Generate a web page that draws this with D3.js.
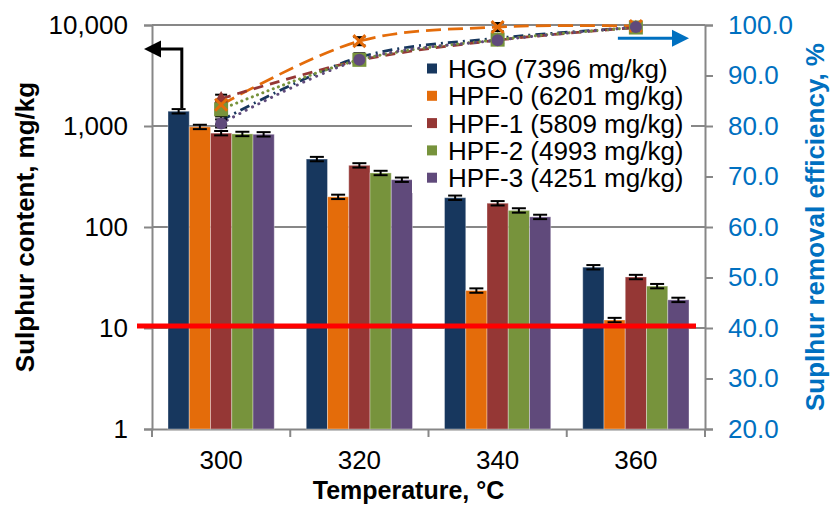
<!DOCTYPE html>
<html>
<head>
<meta charset="utf-8">
<script src="https://cdn.jsdelivr.net/npm/d3@7"></script>
<style>
  body { margin: 0; background: #fff; }
  text { font-family: "Liberation Sans", Arial, sans-serif; }
</style>
</head>
<body>
<div id="chart"></div>
<script>
// categories and series
const temps = ['300', '320', '340', '360'];
const keys = ['HGO', 'HPF-0', 'HPF-1', 'HPF-2', 'HPF-3'];
const legendLabels = ['HGO (7396 mg/kg)', 'HPF-0 (6201 mg/kg)', 'HPF-1 (5809 mg/kg)', 'HPF-2 (4993 mg/kg)', 'HPF-3 (4251 mg/kg)'];
const colors = ['#17375E', '#E46C0A', '#953735', '#77933C', '#604A7B'];

// sulphur content, mg/kg (bars, left log axis)
const sulphurHGO = [1400, 471, 195, 40];
const sulphurHPF0 = [980, 199, 23.5, 12];
const sulphurHPF1 = [850, 408, 172, 32];
const sulphurHPF2 = [835, 343, 146, 26];
const sulphurHPF3 = [828, 294, 126, 19];
const sulphurErr = [0.05, 0.05, 0.05, 0.05];

// sulphur removal efficiency, % (lines, right axis)
const effHGO = [81.1, 93.6, 97.4, 99.5];
const effHPF0 = [84.2, 96.8, 99.6, 99.8];
const effHPF1 = [85.4, 93.0, 97.0, 99.5];
const effHPF2 = [83.3, 93.1, 97.1, 99.5];
const effHPF3 = [80.5, 93.1, 97.0, 99.6];
const effErr = 0.8;

const leftTicks = [1, 10, 100, 1000, 10000];
const rightTicks = [20, 30, 40, 50, 60, 70, 80, 90, 100];
const limit = 10;

const sulphur = [sulphurHGO, sulphurHPF0, sulphurHPF1, sulphurHPF2, sulphurHPF3];
const eff = [effHGO, effHPF0, effHPF1, effHPF2, effHPF3];

const margin = {top: 25, right: 126, bottom: 77, left: 152};
const width = 831 - margin.left - margin.right,
    height = 506 - margin.top - margin.bottom;
const grey = '#878787';

const svg = d3.select('#chart').append('svg')
    .attr('width', 831)
    .attr('height', 506)
    .append('g')
    .attr('transform', 'translate(' + margin.left + ',' + margin.top + ')');

const x = d3.scaleBand().domain(temps).range([0, width]);
const xs = d3.scaleBand().domain(keys).range([16, x.bandwidth() - 16]);
const yL = d3.scaleLog().domain([1, 10000]).range([height, 0]);
const yR = d3.scaleLinear().domain([20, 100]).range([height, 0]);

// gridlines
svg.selectAll('.grid').data(leftTicks.slice(1))
    .enter().append('line')
    .attr('x1', 0).attr('x2', width)
    .attr('y1', d => yL(d)).attr('y2', d => yL(d))
    .style('stroke', grey).style('stroke-width', 2);

// left axis
const gL = svg.append('g').call(d3.axisLeft(yL).tickValues(leftTicks)
    .tickFormat(d3.format(',')).tickSize(8).tickPadding(16));
// right axis
const gR = svg.append('g').attr('transform', 'translate(' + width + ',0)')
    .call(d3.axisRight(yR).tickValues(rightTicks)
    .tickFormat(d3.format('.1f')).tickSize(8).tickPadding(15));
gR.selectAll('text').style('fill', '#0070C0');
// bottom axis
const gB = svg.append('g').attr('transform', 'translate(0,' + height + ')')
    .call(d3.axisBottom(x).tickSize(0).tickPadding(22));
gB.selectAll('.boundary').data(temps.map(d => x(d)).concat([width]))
    .enter().append('line')
    .attr('x1', d => d).attr('x2', d => d)
    .attr('y1', 0).attr('y2', 8)
    .style('stroke', grey).style('stroke-width', 2);

[gL, gR, gB].forEach(g => {
    g.selectAll('.domain').style('stroke', grey).style('stroke-width', 2);
    g.selectAll('.tick line').style('stroke', grey).style('stroke-width', 2);
    g.selectAll('text').style('font-size', '26px')
        .style('font-family', '"Liberation Sans", Arial, sans-serif');
});
gL.selectAll('text').style('fill', '#000');
gB.selectAll('text').style('fill', '#000');

// bars
keys.forEach((k, i) => {
    svg.selectAll('.bar' + i).data(sulphur[i])
        .enter().append('rect')
        .attr('x', (d, j) => x(temps[j]) + xs(k))
        .attr('width', xs.bandwidth())
        .attr('y', d => yL(d))
        .attr('height', d => height - yL(d))
        .style('fill', colors[i])
        .style('stroke', '#ffffff').style('stroke-opacity', 0.35).style('stroke-width', 1);
});

// bar error bars
keys.forEach((k, i) => {
    sulphur[i].forEach((v, j) => {
        const cx = x(temps[j]) + xs(k) + xs.bandwidth() / 2;
        const lo = yL(v * (1 - sulphurErr[j])), hi = yL(v * (1 + sulphurErr[j]));
        const g = svg.append('g').style('stroke', '#000').style('stroke-width', 2);
        g.append('line').attr('x1', cx).attr('x2', cx).attr('y1', lo).attr('y2', hi);
        g.append('line').attr('x1', cx - 7).attr('x2', cx + 7).attr('y1', lo).attr('y2', lo);
        g.append('line').attr('x1', cx - 7).attr('x2', cx + 7).attr('y1', hi).attr('y2', hi);
    });
});

// limit line (10 mg/kg)
svg.append('line')
    .attr('x1', -15).attr('x2', width - 9)
    .attr('y1', yL(limit) - 2).attr('y2', yL(limit) - 2)
    .style('stroke', '#FF0000').style('stroke-width', 5);

// efficiency lines
const dashes = ['10,5,2,5', '15,7', '10,7', '0.1,5.5', '0.1,7'];
const line = d3.line()
    .x((d, j) => x(temps[j]) + x.bandwidth() / 2)
    .y(d => yR(d))
    .curve(d3.curveCatmullRom.alpha(0.5));
eff.forEach((s, i) => {
    svg.append('path').datum(s)
        .attr('d', line)
        .style('fill', 'none')
        .style('stroke', colors[i])
        .style('stroke-width', i >= 3 ? 3 : 2.75)
        .style('stroke-linecap', i >= 3 ? 'round' : 'butt')
        .style('stroke-dasharray', dashes[i]);
});

// efficiency error bars
eff.forEach(s => {
    s.forEach((v, j) => {
        const cx = x(temps[j]) + x.bandwidth() / 2;
        const g = svg.append('g').style('stroke', '#000').style('stroke-width', 2);
        g.append('line').attr('x1', cx).attr('x2', cx).attr('y1', yR(v - effErr)).attr('y2', yR(v + effErr));
        [v - effErr, v + effErr].forEach(e => {
            g.append('line').attr('x1', cx - 6).attr('x2', cx + 6).attr('y1', yR(e)).attr('y2', yR(e));
        });
    });
});

// markers
const cxOf = j => x(temps[j]) + x.bandwidth() / 2;
svg.selectAll('.tri').data(effHPF1).enter().append('path')
    .attr('transform', (d, j) => 'translate(' + cxOf(j) + ',' + yR(d) + ')')
    .attr('d', d3.symbol(d3.symbolTriangle, 80))
    .style('fill', colors[2]);
svg.selectAll('.sq').data(effHPF2).enter().append('rect')
    .attr('x', (d, j) => cxOf(j) - 7).attr('y', d => yR(d) - 7)
    .attr('width', 14).attr('height', 14)
    .style('fill', colors[3]);
svg.selectAll('.cross').data(effHPF0).enter().append('path')
    .attr('transform', (d, j) => 'translate(' + cxOf(j) + ',' + yR(d) + ')')
    .attr('d', 'M-6,-6L6,6M-6,6L6,-6')
    .style('stroke', colors[1]).style('stroke-width', 3);
svg.selectAll('.circ').data(effHPF3).enter().append('circle')
    .attr('cx', (d, j) => cxOf(j)).attr('cy', d => yR(d))
    .attr('r', 6)
    .style('fill', colors[4]);

// legend
const legend = svg.append('g').attr('transform', 'translate(260,30)');
legend.append('rect')
    .attr('x', 0).attr('y', 0).attr('width', 279).attr('height', 138)
    .style('fill', '#fff');
legendLabels.forEach((t, i) => {
    const ly = 13.5 + i * 27.3;
    legend.append('rect')
        .attr('x', 15).attr('y', ly - 5).attr('width', 10).attr('height', 10)
        .style('fill', colors[i]);
    legend.append('text')
        .attr('x', 36).attr('y', ly + 9.5)
        .style('font-size', '26px')
        .text(t);
});

// arrow to left axis
const ax = x(temps[0]) + xs('HGO') + xs.bandwidth() * 0.65;
const ay = yL(5800);
svg.append('path')
    .attr('d', 'M' + ax + ',' + (yL(sulphurHGO[0]) - 3) + 'V' + ay + 'H6')
    .style('fill', 'none').style('stroke', '#000').style('stroke-width', 3);
svg.append('path')
    .attr('d', 'M-8,' + ay + 'L9,' + (ay - 8.5) + 'L9,' + (ay + 8.5) + 'Z')
    .style('fill', '#000');

// arrow to right axis
const by = yR(97.4);
const bx = x(temps[3]) + x.bandwidth() / 2 - 18;
svg.append('path')
    .attr('d', 'M' + bx + ',' + by + 'H' + (width - 30))
    .style('fill', 'none').style('stroke', '#0070C0').style('stroke-width', 3);
svg.append('path')
    .attr('d', 'M' + (width - 16) + ',' + by + 'L' + (width - 33) + ',' + (by - 8.5) + 'L' + (width - 33) + ',' + (by + 8.5) + 'Z')
    .style('fill', '#0070C0');

// axis titles
svg.append('text')
    .attr('transform', 'translate(' + (34 - margin.left) + ',' + (height / 2) + ') rotate(-90)')
    .style('text-anchor', 'middle')
    .style('font-size', '26px').style('font-weight', 'bold')
    .text('Sulphur content, mg/kg');
svg.append('text')
    .attr('transform', 'translate(' + (width + 119) + ',' + (height / 2) + ') rotate(-90)')
    .style('text-anchor', 'middle')
    .style('font-size', '26px').style('font-weight', 'bold')
    .style('fill', '#0070C0')
    .text('Suplhur removal efficiency, %');
svg.append('text')
    .attr('x', width / 2 - 20).attr('y', height + 70)
    .style('text-anchor', 'middle')
    .style('font-size', '25px').style('font-weight', 'bold')
    .text('Temperature, °C');
</script>
</body>
</html>
